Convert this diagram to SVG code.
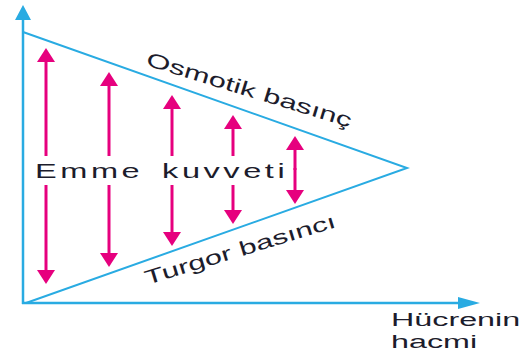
<svg xmlns="http://www.w3.org/2000/svg" width="523" height="354" viewBox="0 0 523 354">
  <style>
    .axis { stroke: #29abe2; stroke-width: 2.5; fill: none; }
    .tri { stroke: #29abe2; stroke-width: 2; fill: none; stroke-linejoin: miter; }
    .force { stroke: #e6007e; stroke-width: 3; fill: none; }
    .lbl { font-family: "Liberation Sans", Arial, sans-serif; fill: #1c1c2c; }
  </style>
  <defs>
    <marker id="pinkHead" viewBox="0 0 14 18" refX="0" refY="9" markerWidth="14" markerHeight="18" markerUnits="userSpaceOnUse" orient="auto">
      <path d="M0,0 L14,9 L0,18 Z" fill="#e6007e"/>
    </marker>
    <marker id="blueHeadY" viewBox="0 0 15 16" refX="0" refY="8" markerWidth="15" markerHeight="16" markerUnits="userSpaceOnUse" orient="auto">
      <path d="M0,0 L15,8 L0,16 Z" fill="#29abe2"/>
    </marker>
    <marker id="blueHeadX" viewBox="0 0 22 12" refX="0" refY="6" markerWidth="22" markerHeight="12" markerUnits="userSpaceOnUse" orient="auto">
      <path d="M0,0 L22,6 L0,12 Z" fill="#29abe2"/>
    </marker>
  </defs>

  <g id="axes">
    <line class="axis" x1="23" y1="304" x2="23" y2="20" marker-end="url(#blueHeadY)"/>
    <line class="axis" x1="22" y1="303" x2="458" y2="303" marker-end="url(#blueHeadX)"/>
  </g>

  <g id="triangle">
    <polyline class="tri" points="23,32 407,168 26,303"/>
  </g>

  <g id="connectors">
    <!-- upward (osmotic) -->
    <line class="force" x1="46" y1="156" x2="46" y2="62" marker-end="url(#pinkHead)"/>
    <line class="force" x1="109" y1="156" x2="109" y2="86" marker-end="url(#pinkHead)"/>
    <line class="force" x1="172" y1="156" x2="172" y2="109" marker-end="url(#pinkHead)"/>
    <line class="force" x1="233" y1="156" x2="233" y2="129" marker-end="url(#pinkHead)"/>
    <line class="force" x1="295" y1="170" x2="295" y2="150" marker-end="url(#pinkHead)"/>
    <!-- downward (turgor) -->
    <line class="force" x1="46" y1="185" x2="46" y2="270" marker-end="url(#pinkHead)"/>
    <line class="force" x1="109" y1="185" x2="109" y2="253" marker-end="url(#pinkHead)"/>
    <line class="force" x1="172" y1="185" x2="172" y2="232" marker-end="url(#pinkHead)"/>
    <line class="force" x1="233" y1="185" x2="233" y2="210" marker-end="url(#pinkHead)"/>
    <line class="force" x1="295" y1="168" x2="295" y2="190" marker-end="url(#pinkHead)"/>
  </g>

  <g id="label-osmotik">
    <text class="lbl" font-size="20" transform="translate(145,65) rotate(17) scale(1.55,1)">Osmotik basınç</text>
  </g>
  <g id="label-turgor">
    <text class="lbl" font-size="20" transform="translate(147,285) rotate(-17) scale(1.55,1)">Turgor basıncı</text>
  </g>
  <g id="label-emme">
    <text class="lbl" font-size="21" letter-spacing="2.3" word-spacing="4" transform="translate(35,178) scale(1.55,1)">Emme kuvveti</text>
  </g>
  <g id="label-hacim">
    <text class="lbl" font-size="19" transform="translate(391,326) scale(1.7,1)">Hücrenin</text>
    <text class="lbl" font-size="19" transform="translate(391,348) scale(1.7,1)">hacmi</text>
  </g>
</svg>
